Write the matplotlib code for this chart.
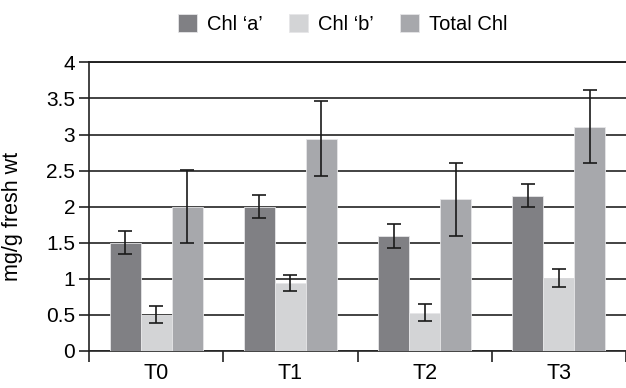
import matplotlib.pyplot as plt
import numpy as np

plt.rcParams['font.family'] = ['Liberation Sans', 'DejaVu Sans']

# Chlorophyll content per treatment
treatments = ['T0', 'T1', 'T2', 'T3']
chl_a = [1.50, 2.00, 1.59, 2.15]
chl_a_err = [0.165, 0.16, 0.165, 0.16]
chl_b = [0.50, 0.94, 0.53, 1.01]
chl_b_err = [0.115, 0.115, 0.12, 0.12]
total = [2.00, 2.94, 2.10, 3.11]
total_err = [0.51, 0.52, 0.51, 0.51]

colors = ['#808084', '#d3d4d6', '#a7a8ac']
labels = ['Chl \u2018a\u2019', 'Chl \u2018b\u2019', 'Total Chl']

fig = plt.figure(figsize=(6.26, 3.88), dpi=100)
ax = fig.add_axes([89 / 626, 0.0961, 537 / 626, 0.743])

x = np.arange(len(treatments))
w = 0.231
err_kw = dict(ecolor='#1a1a1a', elinewidth=1.2, capsize=5, capthick=1.2)
handles = []
for i, (vals, errs) in enumerate([(chl_a, chl_a_err), (chl_b, chl_b_err), (total, total_err)]):
    b = ax.bar(x + (i - 1) * w, vals, w, yerr=errs, color=colors[i],
               edgecolor='#e6e6e8', linewidth=0.6, label=labels[i],
               error_kw=err_kw, zorder=3)
    handles.append(b)

ax.set_ylim(0, 4)
ax.set_xlim(-0.5, 3.5)
ax.set_yticks(np.arange(0, 4.01, 0.5))
ax.set_yticklabels(['0', '0.5', '1', '1.5', '2', '2.5', '3', '3.5', '4'])
ax.yaxis.grid(True, color='#222222', linewidth=1.2, zorder=0)
ax.set_axisbelow(True)

# category boundary ticks below, labels centred
ax.set_xticks(np.arange(-0.5, 3.6, 1.0))
ax.set_xticklabels([])
ax.set_xticks(x, minor=True)
ax.set_xticklabels(treatments, minor=True)
ax.tick_params(axis='x', which='major', length=8, width=1.2, color='#222222')
ax.tick_params(axis='x', which='minor', length=0, pad=8.5, labelsize=15.5)
ax.tick_params(axis='y', length=7, width=1.2, color='#222222', labelsize=15, pad=3)

for s in ['top', 'right']:
    ax.spines[s].set_visible(False)
ax.spines['left'].set_color('#222222')
ax.spines['left'].set_linewidth(1.2)
ax.spines['bottom'].set_color('#222222')
ax.spines['bottom'].set_linewidth(1.2)
ax.axhline(4, color='#222222', linewidth=1.4, clip_on=False, zorder=1)

ax.set_ylabel('mg/g fresh wt', fontsize=15.5)
ax.yaxis.set_label_coords(-0.123, 0.467)

fig.legend(handles=handles, loc='center', bbox_to_anchor=(343 / 626, 1 - 24 / 388),
           ncol=3, frameon=False, fontsize=14.5, handlelength=0.95, handleheight=0.95,
           handletextpad=0.5, columnspacing=1.3)

fig.savefig('out.png', dpi=100)
